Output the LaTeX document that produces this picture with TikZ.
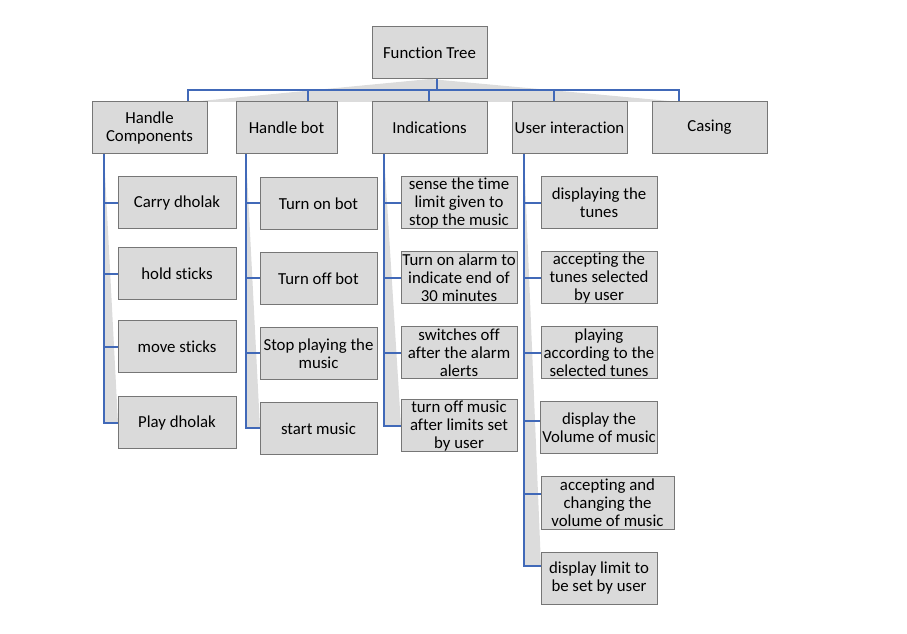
\documentclass[tikz,border=0pt]{standalone}
\usepackage{fontspec}
\setmainfont[Ligatures={NoCommon}]{Carlito}
\usetikzlibrary{calc}
\definecolor{boxfill}{HTML}{DADADA}
\definecolor{boxline}{HTML}{767676}
\definecolor{connblue}{HTML}{4169B8}
\definecolor{wedge}{HTML}{DCDCDC}
\tikzset{
  box/.style={draw=boxline, fill=boxfill, line width=0.75pt, align=center,
    inner xsep=1pt, inner ysep=0pt, minimum height=39pt, font=\fontsize{12.6pt}{13.5pt}\selectfont},
  conn/.style={draw=connblue, line width=1.5pt},
  shade/.style={fill=wedge, draw=none}
}
\begin{document}
\begin{tikzpicture}[x=0.75pt, y=-0.75pt]
\useasboundingbox (0,0) rectangle (907,634);
% wedges (background)
\fill[shade] (430,79) -- (680,102) -- (190,102) -- cycle;
\fill[shade] (104,154) -- (118,423) -- (104,423) -- cycle;
\fill[shade] (246,154) -- (260,428) -- (246,428) -- cycle;
\fill[shade] (384,154) -- (401,426) -- (384,426) -- cycle;
\fill[shade] (524,154) -- (541,566) -- (524,566) -- cycle;

% root
\node[box, minimum width=86.25pt] (ft) at (429.5,53) {Function Tree};
% level 1
\node[box, minimum width=86.25pt] (hc) at (149.5,128) {Handle\\Components};
\node[box, minimum width=75.75pt] (hb) at (286.5,128) {Handle bot};
\node[box, minimum width=86.25pt] (ind) at (429.5,128) {Indications};
\node[box, minimum width=86.25pt] (ui) at (569.5,128) {User interaction};
\node[box, minimum width=86.25pt] (cas) at (709.5,128) {\strut Casing};

% Handle Components children
\node[box, minimum width=88.5pt] (hc1) at (177,203) {Carry dholak};
\node[box, minimum width=88.5pt] (hc2) at (177,274) {hold sticks};
\node[box, minimum width=88.5pt] (hc3) at (177,347) {move sticks};
\node[box, minimum width=88.5pt] (hc4) at (177,423) {Play dholak};

% Handle bot children
\node[box, minimum width=87.75pt] (hb1) at (318.5,203.5) {Turn on bot};
\node[box, minimum width=87.75pt] (hb2) at (318.5,278.5) {Turn off bot};
\node[box, minimum width=87.75pt] (hb3) at (318.5,353.5) {Stop playing the\\music};
\node[box, minimum width=87.75pt] (hb4) at (318.5,428.5) {start music};

% Indications children
\node[box, minimum width=87pt] (in1) at (459,203) {sense the time\\limit given to\\stop the music};
\node[box, minimum width=87pt] (in2) at (459,278) {Turn on alarm to\\indicate end of\\30 minutes};
\node[box, minimum width=87pt] (in3) at (459,353) {switches off\\after the alarm\\alerts};
\node[box, minimum width=87pt] (in4) at (459,426) {turn off music\\after limits set\\by user};

% User interaction children
\node[box, minimum width=87pt] (ui1) at (599,203) {displaying the\\tunes};
\node[box, minimum width=87pt] (ui2) at (599,278) {accepting the\\tunes selected\\by user};
\node[box, minimum width=87pt] (ui3) at (599,353) {playing\\according to the\\selected tunes};
\node[box, minimum width=87pt] (ui4) at (599,428) {display the\\Volume of music};
\node[box, minimum width=99.75pt] (ui5) at (607.5,503) {accepting and\\changing the\\volume of music};
\node[box, minimum width=87pt] (ui6) at (599,578) {display limit to\\be set by user};

% top-level connectors
\coordinate (bus) at ($(ft.south)+(7.5,11)$);
\draw[conn] ($(ft.south)+(7.5,0)$) -- (bus);
\draw[conn] ($(hc.north)+(38.5,0)$) |- (bus);
\draw[conn] ($(hb.north)+(21.5,0)$) |- (bus);
\draw[conn] ($(ind.north)+(-0.5,0)$) |- (bus);
\draw[conn] ($(ui.north)+(-15.5,0)$) |- (bus);
\draw[conn] ($(cas.north)+(-30.5,0)$) |- (bus);

% column connectors
\foreach \c in {hc1,hc2,hc3,hc4} \draw[conn] ($(hc.south west)+(12,0)$) |- (\c.west);
\foreach \c in {hb1,hb2,hb3,hb4} \draw[conn] ($(hb.south west)+(10,0)$) |- (\c.west);
\foreach \c in {in1,in2,in3,in4} \draw[conn] ($(ind.south west)+(12,0)$) |- (\c.west);
\foreach \c in {ui1,ui2,ui3} \draw[conn] ($(ui.south west)+(12,0)$) |- (\c.west);
\draw[conn] ($(ui.south west)+(12,0)$) |- ($(ui4.west)+(0,-7)$);
\draw[conn] ($(ui.south west)+(12,0)$) |- ($(ui5.west)+(0,-9)$);
\draw[conn] ($(ui.south west)+(12,0)$) |- ($(ui6.west)+(0,-12)$);
\end{tikzpicture}
\end{document}
